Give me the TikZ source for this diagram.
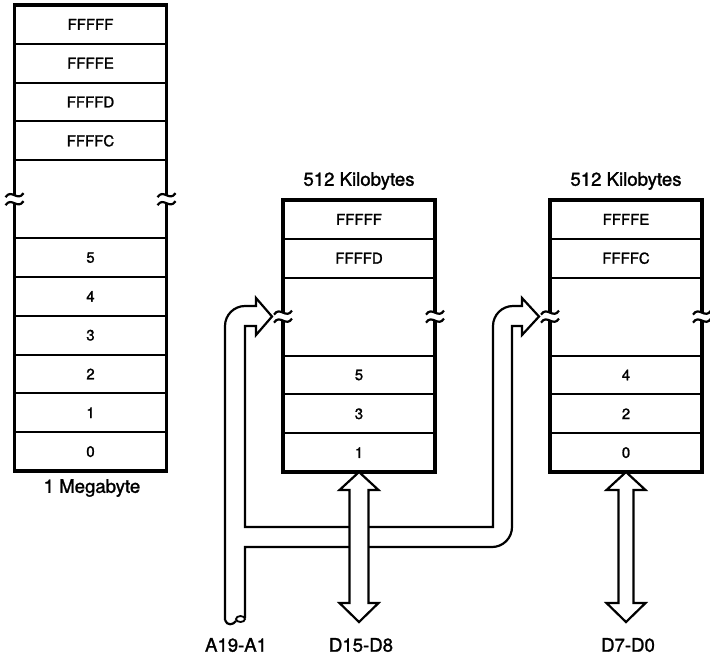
\documentclass[tikz,border=0pt]{standalone}
\usepackage{fontspec}
\setmainfont{TeX Gyre Heros}[BoldFont={TeX Gyre Heros}, BoldFeatures={FakeBold=1.4}]
\usetikzlibrary{positioning}

\begin{document}
\begin{tikzpicture}[
    x=0.5pt, y=-0.5pt,
    cell/.style={draw, line width=1pt, outer sep=0pt, inner sep=0pt, minimum width=76pt, minimum height=19.4pt, font=\fontsize{7.5}{9}\selectfont\bfseries},
    gapcell/.style={cell, minimum height=39pt},
    frame/.style={draw, line width=1.6pt},
    caption/.style={font=\fontsize{9.3}{11}\selectfont\bfseries},
    bus/.style={draw, line width=1.1pt, line join=miter},
    databus/.style={bus, fill=white},
    brk/.pic={
        \fill[white] (-2.5,-4) rectangle (2.5,4);
        \draw[line width=1.1pt] (-9,-2) .. controls (-3,-11) and (3,3) .. (9,-6);
        \draw[line width=1.1pt] (-9,6) .. controls (-3,-3) and (3,11) .. (9,2);
    }
]
    \useasboundingbox (0,0) rectangle (710,655);

    % 1 Megabyte
    \node[cell] (m1) at (90.5,24.4) {FFFFF};
    \node[cell, below=0pt of m1] (m2) {FFFFE};
    \node[cell, below=0pt of m2] (m3) {FFFFD};
    \node[cell, below=0pt of m3] (m4) {FFFFC};
    \node[gapcell, below=0pt of m4] (mgap) {};
    \node[cell, below=0pt of mgap] (m5) {5};
    \node[cell, below=0pt of m5] (m4b) {4};
    \node[cell, below=0pt of m4b] (m3b) {3};
    \node[cell, below=0pt of m3b] (m2b) {2};
    \node[cell, below=0pt of m2b] (m1b) {1};
    \node[cell, below=0pt of m1b] (m0) {0};
    \draw[frame] (m1.north west) rectangle (m0.south east);
    \node[caption] (mtitle) at (92,488) {1 Megabyte};

    % odd bank
    \node[cell] (o1) at (359,219.4) {FFFFF};
    \node[cell, below=0pt of o1] (o2) {FFFFD};
    \node[gapcell, below=0pt of o2] (ogap) {};
    \node[cell, below=0pt of ogap] (o5) {5};
    \node[cell, below=0pt of o5] (o3) {3};
    \node[cell, below=0pt of o3] (o0) {1};
    \draw[frame] (o1.north west) rectangle (o0.south east);
    \node[caption] (otitle) at (359,181) {512 Kilobytes};

    % even bank
    \node[cell] (e1) at (626,219.4) {FFFFE};
    \node[cell, below=0pt of e1] (e2) {FFFFC};
    \node[gapcell, below=0pt of e2] (egap) {};
    \node[cell, below=0pt of egap] (e4) {4};
    \node[cell, below=0pt of e4] (e2b) {2};
    \node[cell, below=0pt of e2b] (e0) {0};
    \draw[frame] (e1.north west) rectangle (e0.south east);
    \node[caption] (etitle) at (626,181) {512 Kilobytes};

    % Bus labels
    \node[caption] (alabel) at (236,645) {A19-A1};
    \node[caption] (hlabel) at (361,645) {D15-D8};
    \node[caption] (llabel) at (628,645) {D7-D0};

    % Address bus
    \draw[bus] (225,620) -- (225,326) arc[start angle=180, end angle=270, radius=20]
        -- (256,306) -- (256,298) -- (272,316.5) -- (256,335) -- (256,326) -- (245,326)
        -- (245,527) -- (493,527) -- (493,326) arc[start angle=180, end angle=270, radius=20]
        -- (522,306) -- (522,298) -- (539,316.5) -- (522,335) -- (522,326) -- (512,326)
        -- (512,527) arc[start angle=0, end angle=90, radius=20]
        -- (245,547) -- (245,618);
    \draw[bus] (225,620) .. controls (227,626) and (233,625) .. (236,621);
    \draw[bus, line width=0.9pt] (240.5,619) ellipse[x radius=4.5, y radius=3];

    % Data buses
    \draw[databus] (o0.south) -- ++(19.5,18) -- ++(-10,0) -- ++(0,113) -- ++(10,0) -- ++(-19.5,19)
        -- ++(-19.5,-19) -- ++(10,0) -- ++(0,-113) -- ++(-10,0) -- cycle;
    \draw[databus] (e0.south) -- ++(19.5,18) -- ++(-12,0) -- ++(0,113) -- ++(12,0) -- ++(-19.5,19)
        -- ++(-19.5,-19) -- ++(12,0) -- ++(0,-113) -- ++(-12,0) -- cycle;

    % Break marks
    \pic at (mgap.west) {brk};
    \pic at (mgap.east) {brk};
    \pic at (ogap.west) {brk};
    \pic at (ogap.east) {brk};
    \pic at (egap.west) {brk};
    \pic at (egap.east) {brk};
\end{tikzpicture}
\end{document}
